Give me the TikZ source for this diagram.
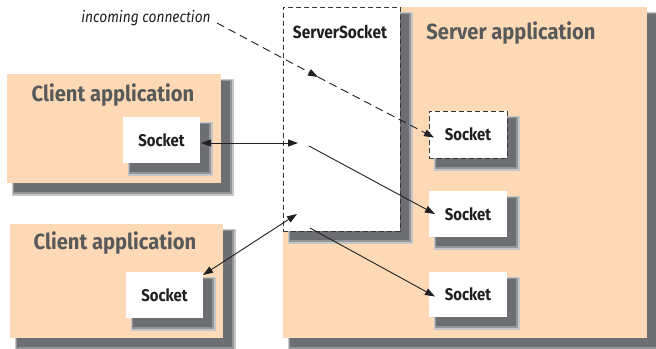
\documentclass[tikz,border=0pt]{standalone}
\usepackage{fontspec}
\setmainfont{Fira Sans}
\newfontfamily\condfont{Fira Sans}[FakeStretch=0.88]
\newfontfamily\titlefont{Fira Sans}[FakeStretch=0.92]
\usetikzlibrary{arrows.meta,calc}
\definecolor{peach}{HTML}{FDD9B5}
\definecolor{titlegray}{HTML}{58595B}
\definecolor{ink}{HTML}{231F20}
\definecolor{shdark}{HTML}{6D6E71}
\definecolor{shmid}{HTML}{939598}
\definecolor{shlight}{HTML}{C4C6C8}
\tikzset{
  appbox/.style={fill=peach, draw=none},
  sockbox/.style={fill=white, draw=none, font=\condfont\bfseries\fontsize{17}{20}\selectfont, text=ink},
  dashbox/.style={fill=white, draw=ink!90, line width=0.9bp, dash pattern=on 5bp off 3bp},
  apptitle/.style={font=\titlefont\bfseries\fontsize{22}{26}\selectfont, text=titlegray, inner sep=0pt},
  sstitle/.style={font=\condfont\bfseries\fontsize{17.6}{20}\selectfont, text=ink, inner sep=0pt},
  note/.style={font=\condfont\itshape\fontsize{15.7}{19}\selectfont, text=ink, inner sep=0pt},
  conn/.style={draw=ink, line width=0.9bp, -{Triangle[length=10bp,width=7bp]}},
  dconn/.style={conn, dash pattern=on 8bp off 5bp},
  bconn/.style={draw=ink, line width=0.9bp, {Triangle[length=10bp,width=7bp]}-{Triangle[length=10bp,width=7bp]}},
}
% #1 name, #2 x1, #3 y1, #4 x2, #5 y2, #6 style, #7 text
\newcommand\shbox[7]{%
  \fill[shlight] (#2+5,#3+5) rectangle (#4+13,#5+13);
  \fill[shmid] (#2+6,#3+6) rectangle (#4+11,#5+11);
  \fill[shdark] (#2+7,#3+7) rectangle (#4+9,#5+9);
  \node[#6, inner sep=0pt, outer sep=0pt, minimum width={(#4-#2)*1bp}, minimum height={(#5-#3)*1bp}] (#1) at ({(#2+#4)/2},{(#3+#5)/2}) {#7};
}
\begin{document}
\begin{tikzpicture}[x=1bp,y=-1bp]
\useasboundingbox (0,0) rectangle (656,348);
% server side
\shbox{server}{283}{7}{647}{338}{appbox}{}
\shbox{ss}{283}{7}{400}{231}{dashbox}{}
\shbox{sockS1}{429}{111}{507}{158}{sockbox,dashbox}{Socket}
\shbox{sockS2}{429}{191}{507}{237}{sockbox}{Socket}
\shbox{sockS3}{429}{272}{507}{317}{sockbox}{Socket}
\node[apptitle] (servertitle) at (511,33) {Server application};
\node[sstitle] (sstitle) at (340,32) {ServerSocket};
% clients
\shbox{clientA}{7}{74}{221}{183}{appbox}{}
\node[apptitle] (clientAtitle) at (113,95) {Client application};
\shbox{sockA}{123}{117}{200}{163}{sockbox}{Socket}
\shbox{clientB}{10}{224}{223}{338}{appbox}{}
\node[apptitle] (clientBtitle) at (115,243) {Client application};
\shbox{sockB}{126}{272}{203}{318}{sockbox}{Socket}
% note
\node[note] (inc) at (146,18) {incoming connection};
% connector ends inside the ServerSocket
\coordinate (d0) at (217,23);
\coordinate (dmid) at (318,77);
\coordinate (inA) at (298,143);
\coordinate (outA) at (309,146);
\coordinate (inB) at (297,214);
\coordinate (outB) at (310,228);
% connectors
\draw[bconn] ($(sockA.east)+(1,3)$) -- (inA);
\draw[bconn] ($(sockB.north east)+(0,3)$) -- (inB);
\draw[conn] (outA) -- ($(sockS2.west)+(6,0)$);
\draw[conn] (outB) -- ($(sockS3.west)+(6,2)$);
\draw[dconn] (d0) -- (dmid);
\draw[dconn] (dmid) -- ($(sockS1.west)+(5,3)$);
\end{tikzpicture}
\end{document}
